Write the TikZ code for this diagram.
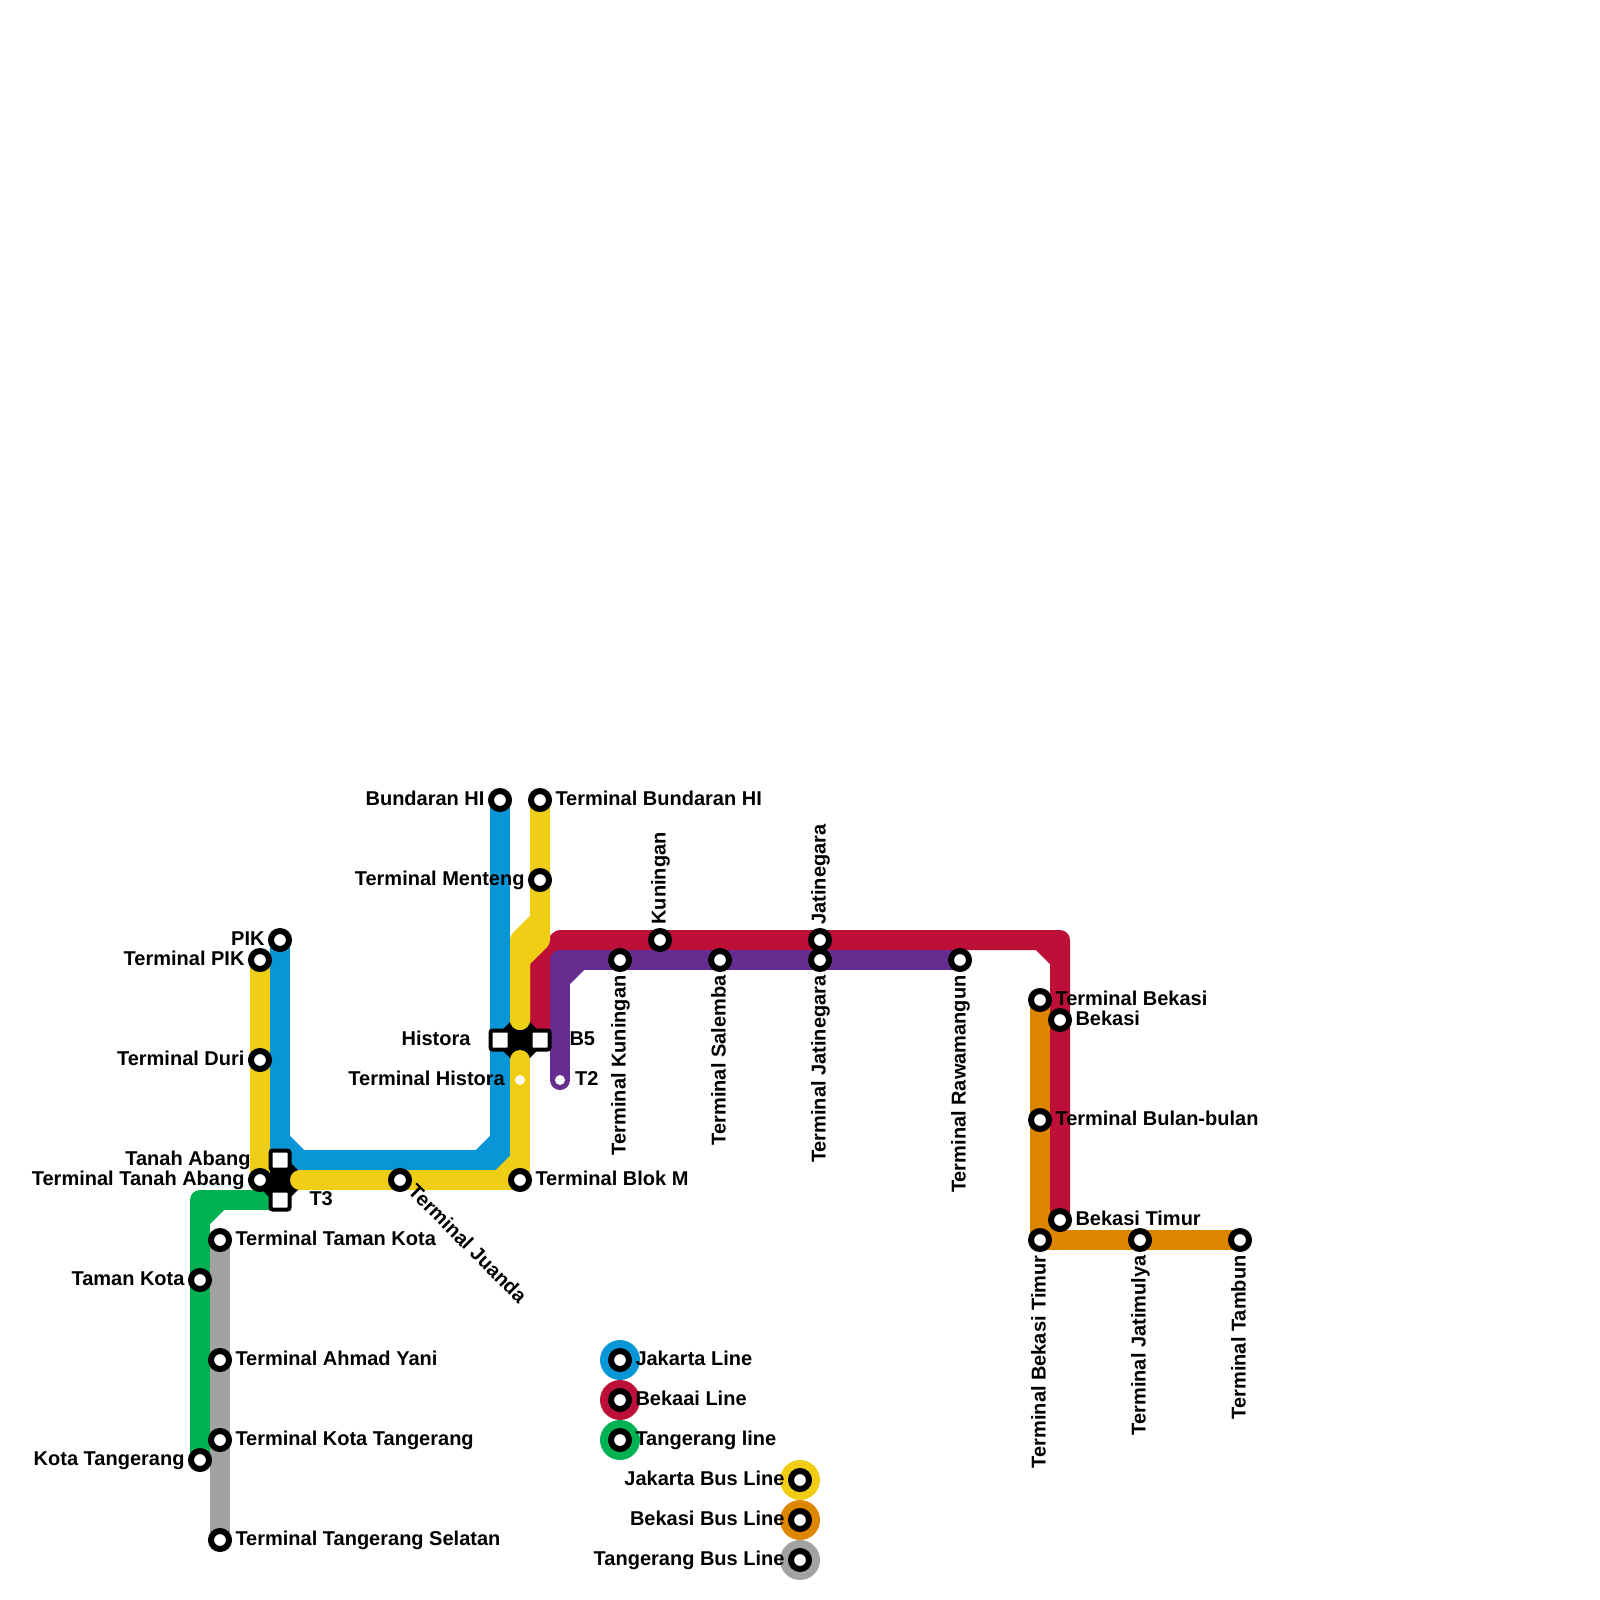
\documentclass[tikz,border=0pt]{standalone}
\usepackage{fontspec}
\setmainfont{Liberation Sans}
\usetikzlibrary{positioning, backgrounds, shapes.geometric}
\definecolor{lineblue}{HTML}{0896D7}
\definecolor{linered}{HTML}{BD1038}
\definecolor{linegreen}{HTML}{00B251}
\definecolor{lineyellow}{HTML}{F0CE15}
\definecolor{lineorange}{HTML}{DF8600}
\definecolor{linegray}{HTML}{A2A2A2}
\definecolor{linepurple}{HTML}{662C90}
\begin{document}
\begin{tikzpicture}[
      x=1pt, y=-1pt,
      stn/.style={circle, draw=black, line width=6pt, fill=white, minimum size=18pt, inner sep=0pt},
      dot/.style={circle, fill=white, minimum size=10pt, inner sep=0pt},
      box/.style={draw=black, line width=4pt, fill=white, rounded corners=2pt, minimum size=19pt, inner sep=0pt},
      hub/.style={diamond, fill=black, minimum size=56pt, inner sep=0pt},
      disc/.style={circle, minimum size=40pt, inner sep=0pt},
      lbl/.style={font=\fontsize{20}{20}\selectfont\bfseries, text=black, inner sep=0pt, outer sep=0pt, text height=15pt, text depth=4pt},
      rail/.style={line width=20pt, line join=round, line cap=round}
    ]
    \useasboundingbox (0,0) rectangle (1600,1600);
    % interchange boxes
    \node[box] (boxtanah) at (280,1160) {};
    \node[box] (boxt) at (280,1200) {};
    \node[box] (boxhistora) at (500,1040) {};
    \node[box] (boxb) at (540,1040) {};
    % Jakarta line
    \node[stn] (bundaran) at (500,800) {};
    \node[stn] (pik) at (280,940) {};
    \node[lbl, left=3.5pt of bundaran] (lblbundaran) {Bundaran HI};
    \node[lbl, left=3.5pt of pik] (lblpik) {PIK};
    % Jakarta bus line
    \node[stn] (tbundaran) at (540,800) {};
    \node[stn] (tmenteng) at (540,880) {};
    \node[stn] (tpik) at (260,960) {};
    \node[stn] (tduri) at (260,1060) {};
    \node[stn] (ttanah) at (260,1180) {};
    \node[stn] (tjuanda) at (400,1180) {};
    \node[stn] (tblokm) at (520,1180) {};
    \node[dot] (thistora) at (520,1080) {};
    \node[lbl, right=3.5pt of tbundaran] (lbltbundaran) {Terminal Bundaran HI};
    \node[lbl, left=3.5pt of tmenteng] (lbltmenteng) {Terminal Menteng};
    \node[lbl, left=3.5pt of tpik] (lbltpik) {Terminal PIK};
    \node[lbl, left=3.5pt of tduri] (lbltduri) {Terminal Duri};
    \node[lbl, left=3.5pt of ttanah] (lblttanah) {Terminal Tanah Abang};
    \node[lbl, rotate=-45, anchor=west] (lbltjuanda) at ([xshift=11pt,yshift=-9pt]tjuanda.center) {Terminal Juanda};
    \node[lbl, right=3.5pt of tblokm] (lbltblokm) {Terminal Blok M};
    \node[lbl, left=10pt of thistora] (lblthistora) {Terminal Histora};
    % interchange names
    \node[lbl, left=18pt of boxhistora] (lblhistora) {Histora};
    \node[lbl, right=18pt of boxb] (lblb) {B5};
    \node[lbl, left=18pt of boxtanah] (lbltanah) {Tanah Abang};
    \node[lbl, right=18pt of boxt] (lblt) {T3};
    % Bekasi line
    \node[stn] (kuningan) at (660,940) {};
    \node[stn] (jatinegara) at (820,940) {};
    \node[stn] (bekasi) at (1060,1020) {};
    \node[stn] (bekasitimur) at (1060,1220) {};
    \node[lbl, rotate=90, anchor=west] (lblkuningan) at ([yshift=3.5pt]kuningan.north) {Kuningan};
    \node[lbl, rotate=90, anchor=west] (lbljatinegara) at ([yshift=3.5pt]jatinegara.north) {Jatinegara};
    \node[lbl, right=3.5pt of bekasi] (lblbekasi) {Bekasi};
    \node[lbl, right=3.5pt of bekasitimur] (lblbekasitimur) {Bekasi Timur};
    % purple line
    \node[stn] (tkuningan) at (620,960) {};
    \node[stn] (tsalemba) at (720,960) {};
    \node[stn] (tjatinegara) at (820,960) {};
    \node[stn] (trawamangun) at (960,960) {};
    \node[dot] (ttwo) at (560,1080) {};
    \node[lbl, rotate=90, anchor=east] (lbltkuningan) at ([yshift=-3.5pt]tkuningan.south) {Terminal Kuningan};
    \node[lbl, rotate=90, anchor=east] (lbltsalemba) at ([yshift=-3.5pt]tsalemba.south) {Terminal Salemba};
    \node[lbl, rotate=90, anchor=east] (lbltjatinegara) at ([yshift=-3.5pt]tjatinegara.south) {Terminal Jatinegara};
    \node[lbl, rotate=90, anchor=east] (lbltrawamangun) at ([yshift=-3.5pt]trawamangun.south) {Terminal Rawamangun};
    \node[lbl, right=10pt of ttwo] (lblttwo) {T2};
    % Bekasi bus line
    \node[stn] (tbekasi) at (1040,1000) {};
    \node[stn] (tbulan) at (1040,1120) {};
    \node[stn] (tbekasitimur) at (1040,1240) {};
    \node[stn] (tjatimulya) at (1140,1240) {};
    \node[stn] (ttambun) at (1240,1240) {};
    \node[lbl, right=3.5pt of tbekasi] (lbltbekasi) {Terminal Bekasi};
    \node[lbl, right=3.5pt of tbulan] (lbltbulan) {Terminal Bulan-bulan};
    \node[lbl, rotate=90, anchor=east] (lbltbekasitimur) at ([yshift=-3.5pt]tbekasitimur.south) {Terminal Bekasi Timur};
    \node[lbl, rotate=90, anchor=east] (lbltjatimulya) at ([yshift=-3.5pt]tjatimulya.south) {Terminal Jatimulya};
    \node[lbl, rotate=90, anchor=east] (lblttambun) at ([yshift=-3.5pt]ttambun.south) {Terminal Tambun};
    % Tangerang line
    \node[stn] (tamankota) at (200,1280) {};
    \node[stn] (kotatangerang) at (200,1460) {};
    \node[lbl, left=3.5pt of tamankota] (lbltamankota) {Taman Kota};
    \node[lbl, left=3.5pt of kotatangerang] (lblkotatangerang) {Kota Tangerang};
    % Tangerang bus line
    \node[stn] (ttamankota) at (220,1240) {};
    \node[stn] (tahmad) at (220,1360) {};
    \node[stn] (tkotatangerang) at (220,1440) {};
    \node[stn] (tselatan) at (220,1540) {};
    \node[lbl, right=3.5pt of ttamankota] (lblttamankota) {Terminal Taman Kota};
    \node[lbl, right=3.5pt of tahmad] (lbltahmad) {Terminal Ahmad Yani};
    \node[lbl, right=3.5pt of tkotatangerang] (lbltkotatangerang) {Terminal Kota Tangerang};
    \node[lbl, right=3.5pt of tselatan] (lbltselatan) {Terminal Tangerang Selatan};
    % legend
    \node[disc, fill=lineblue] (discblue) at (620,1360) {};
    \node[disc, fill=linered] (discred) at (620,1400) {};
    \node[disc, fill=linegreen] (discgreen) at (620,1440) {};
    \node[disc, fill=lineyellow] (discyellow) at (800,1480) {};
    \node[disc, fill=lineorange] (discorange) at (800,1520) {};
    \node[disc, fill=linegray] (discgray) at (800,1560) {};
    \node[stn] (keyblue) at (discblue) {};
    \node[stn] (keyred) at (discred) {};
    \node[stn] (keygreen) at (discgreen) {};
    \node[stn] (keyyellow) at (discyellow) {};
    \node[stn] (keyorange) at (discorange) {};
    \node[stn] (keygray) at (discgray) {};
    \node[lbl, right=3.5pt of keyblue] (lblkeyblue) {Jakarta Line};
    \node[lbl, right=3.5pt of keyred] (lblkeyred) {Bekaai Line};
    \node[lbl, right=3.5pt of keygreen] (lblkeygreen) {Tangerang line};
    \node[lbl, left=3.5pt of keyyellow] (lblkeyyellow) {Jakarta Bus Line};
    \node[lbl, left=3.5pt of keyorange] (lblkeyorange) {Bekasi Bus Line};
    \node[lbl, left=3.5pt of keygray] (lblkeygray) {Tangerang Bus Line};
    % corners
    \coordinate (bluea) at (280,1160);
    \coordinate (blueb) at (500,1160);
    \coordinate (reda) at (1060,940);
    \coordinate (redb) at (560,940);
    \coordinate (redc) at (540,960);
    \coordinate (purplea) at (560,960);
    \coordinate (greena) at (200,1200);
    \coordinate (orangea) at (1040,1240);
    \coordinate (yellowa) at (540,920);
    \coordinate (yellowb) at (520,940);
    \coordinate (yellowc) at (520,1020);
    \coordinate (yellowd) at (520,1060);
    \coordinate (yellowe) at (300,1180);
    \begin{scope}[on background layer]
      \draw[rail, draw=lineblue] (pik.center) -- (bluea) -- (blueb) -- (bundaran.center);
      \draw[rail, draw=lineblue] (bluea) ++(0,-20) -- ++(20,20);
      \draw[rail, draw=lineblue] (blueb) ++(-20,0) -- ++(20,-20);
      \draw[rail, draw=linered] (bekasitimur.center) -- (reda) -- (redb) -- (redc) -- (boxb.center);
      \draw[rail, draw=linered] (reda) ++(-20,0) -- ++(20,20);
      \draw[rail, draw=linepurple] (trawamangun.center) -- (purplea) -- (ttwo.center);
      \draw[rail, draw=linepurple] (purplea) ++(20,0) -- ++(-20,20);
      \draw[rail, draw=linegreen] (boxt.center) -- (greena) -- (kotatangerang.center);
      \draw[rail, draw=linegreen] (greena) ++(20,0) -- ++(-20,20);
      \draw[rail, draw=lineorange] (tbekasi.center) -- (orangea) -- (ttambun.center);
      \draw[rail, draw=lineorange] (orangea) ++(0,-20) -- ++(20,20);
      \draw[rail, draw=linegray] (ttamankota.center) -- (tselatan.center);
      \node[hub] (hubhistora) at (520,1040) {};
      \node[hub] (hubtanah) at (280,1180) {};
      \draw[rail, draw=lineyellow] (tbundaran.center) -- (yellowa) -- (yellowb) -- (yellowc);
      \draw[rail, draw=lineyellow] (yellowa) -- ++(0,20) -- ++(-20,20) -- (yellowc);
      \draw[rail, draw=lineyellow] (tpik.center) -- (ttanah.center);
      \draw[rail, draw=lineyellow] (yellowe) -- (tblokm.center) -- (yellowd);
      \draw[rail, draw=lineyellow] (tblokm.center) ++(-20,0) -- ++(20,-20);
    \end{scope}
  \end{tikzpicture}
\end{document}
